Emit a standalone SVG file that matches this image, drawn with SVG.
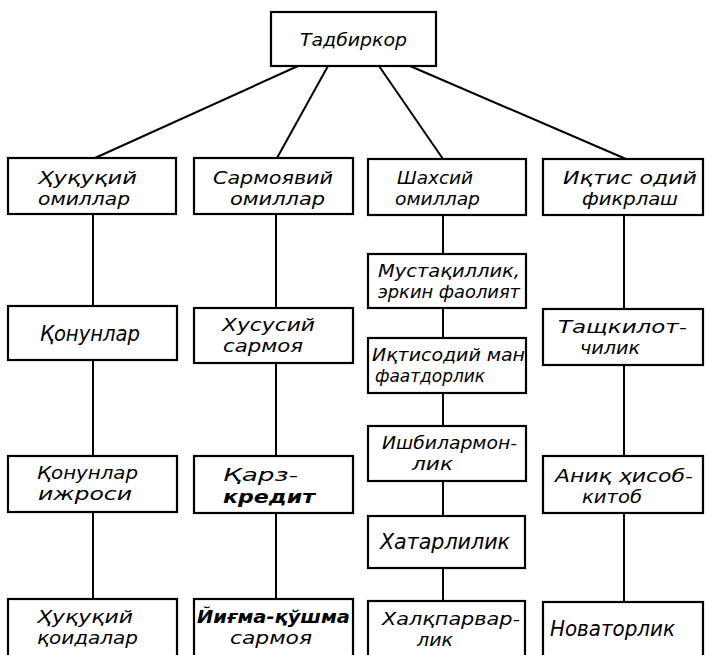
<svg xmlns="http://www.w3.org/2000/svg" width="707" height="655" viewBox="0 0 707 655">
<style>
.box{fill:#fff;stroke:#000;stroke-width:2.2}
.ln{stroke:#000;stroke-width:2;fill:none}
text{font-family:'DejaVu Sans Condensed','DejaVu Sans',sans-serif;font-style:italic;font-size:18px;fill:#000}
.one{font-size:21px}
</style>
<rect width="707" height="655" fill="#fff"/>
<g id="connectors">
<line class="ln" x1="298" y1="66" x2="95" y2="158"/>
<line class="ln" x1="328" y1="66" x2="277" y2="158"/>
<line class="ln" x1="379" y1="66" x2="443" y2="159"/>
<line class="ln" x1="410" y1="66" x2="626" y2="159"/>
<line class="ln" x1="93" y1="214" x2="93" y2="306"/>
<line class="ln" x1="93" y1="360" x2="93" y2="456"/>
<line class="ln" x1="93" y1="512" x2="93" y2="599"/>
<line class="ln" x1="276" y1="214" x2="276" y2="308"/>
<line class="ln" x1="276" y1="363" x2="276" y2="456"/>
<line class="ln" x1="276" y1="513" x2="276" y2="599"/>
<line class="ln" x1="443" y1="215" x2="443" y2="254"/>
<line class="ln" x1="443" y1="308" x2="443" y2="338"/>
<line class="ln" x1="443" y1="393" x2="443" y2="426"/>
<line class="ln" x1="443" y1="481" x2="443" y2="516"/>
<line class="ln" x1="443" y1="568" x2="443" y2="601"/>
<line class="ln" x1="624" y1="215" x2="624" y2="309"/>
<line class="ln" x1="624" y1="365" x2="624" y2="456"/>
<line class="ln" x1="624" y1="513" x2="624" y2="602"/>
</g>
<g id="n-tadbirkor">
<rect class="box" x="271" y="12" width="165" height="54"/>
<text x="300" y="46" textLength="107" lengthAdjust="spacingAndGlyphs" font-size="23">Тадбиркор</text>
</g>
<g id="n-huquqiy-omillar">
<rect class="box" x="8" y="158" width="168" height="56"/>
<text x="38" y="184" textLength="99" lengthAdjust="spacingAndGlyphs">Ҳуқуқий</text>
<text x="38" y="205" textLength="92" lengthAdjust="spacingAndGlyphs">омиллар</text>
</g>
<g id="n-sarmoyaviy-omillar">
<rect class="box" x="194" y="158" width="159" height="56"/>
<text x="213" y="184" textLength="120" lengthAdjust="spacingAndGlyphs">Сармоявий</text>
<text x="230" y="205" textLength="95" lengthAdjust="spacingAndGlyphs">омиллар</text>
</g>
<g id="n-shahsiy-omillar">
<rect class="box" x="368" y="159" width="158" height="56"/>
<text x="397" y="184" textLength="76" lengthAdjust="spacingAndGlyphs">Шахсий</text>
<text x="395" y="205" textLength="85" lengthAdjust="spacingAndGlyphs">омиллар</text>
</g>
<g id="n-iqtisodiy-fikrlash">
<rect class="box" x="543" y="159" width="160" height="56"/>
<text x="563" y="184" textLength="134" lengthAdjust="spacingAndGlyphs">Иқтис одий</text>
<text x="582" y="205" textLength="96" lengthAdjust="spacingAndGlyphs">фикрлаш</text>
</g>
<g id="n-qonunlar">
<rect class="box" x="8" y="306" width="169" height="54"/>
<text class="one" x="40" y="341" textLength="100" lengthAdjust="spacingAndGlyphs">Қонунлар</text>
</g>
<g id="n-xususiy-sarmoya">
<rect class="box" x="194" y="308" width="159" height="55"/>
<text x="222" y="331" textLength="93" lengthAdjust="spacingAndGlyphs">Хусусий</text>
<text x="223" y="352" textLength="80" lengthAdjust="spacingAndGlyphs">сармоя</text>
</g>
<g id="n-mustaqillik">
<rect class="box" x="368" y="254" width="158" height="54"/>
<text x="378" y="277" textLength="142" lengthAdjust="spacingAndGlyphs">Мустақиллик,</text>
<text x="378" y="298" textLength="142" lengthAdjust="spacingAndGlyphs">эркин фаолият</text>
</g>
<g id="n-iqtisodiy-manfaatdorlik">
<rect class="box" x="368" y="338" width="158" height="55"/>
<text x="372" y="361" textLength="153" lengthAdjust="spacingAndGlyphs">Иқтисодий ман</text>
<text x="375" y="382" textLength="110" lengthAdjust="spacingAndGlyphs">фаатдорлик</text>
</g>
<g id="n-tashkilotchilik">
<rect class="box" x="543" y="309" width="160" height="56"/>
<text x="558" y="333" textLength="129" lengthAdjust="spacingAndGlyphs">Тащкилот-</text>
<text x="580" y="354" textLength="60" lengthAdjust="spacingAndGlyphs">чилик</text>
</g>
<g id="n-ishbilarmonlik">
<rect class="box" x="368" y="426" width="158" height="55"/>
<text x="382" y="449" textLength="135" lengthAdjust="spacingAndGlyphs">Ишбилармон-</text>
<text x="412" y="470" textLength="41" lengthAdjust="spacingAndGlyphs">лик</text>
</g>
<g id="n-qonunlar-ijrosi">
<rect class="box" x="8" y="456" width="169" height="56"/>
<text x="37" y="479" textLength="101" lengthAdjust="spacingAndGlyphs">Қонунлар</text>
<text x="38" y="500" textLength="94" lengthAdjust="spacingAndGlyphs">ижроси</text>
</g>
<g id="n-qarz-kredit">
<rect class="box" x="194" y="456" width="159" height="57"/>
<text x="223" y="481" textLength="75" lengthAdjust="spacingAndGlyphs">Қарз-</text>
<text x="223" y="503" textLength="92" lengthAdjust="spacingAndGlyphs" font-weight="bold">кредит</text>
</g>
<g id="n-aniq-hisob-kitob">
<rect class="box" x="543" y="456" width="160" height="57"/>
<text x="555" y="482" textLength="138" lengthAdjust="spacingAndGlyphs">Аниқ ҳисоб-</text>
<text x="582" y="503" textLength="60" lengthAdjust="spacingAndGlyphs">китоб</text>
</g>
<g id="n-xatarlilik">
<rect class="box" x="368" y="516" width="157" height="52"/>
<text class="one" x="380" y="549" textLength="130" lengthAdjust="spacingAndGlyphs">Хатарлилик</text>
</g>
<g id="n-huquqiy-qoidalar">
<rect class="box" x="8" y="599" width="169" height="60"/>
<text x="37" y="623" textLength="96" lengthAdjust="spacingAndGlyphs">Ҳуқуқий</text>
<text x="37" y="644" textLength="101" lengthAdjust="spacingAndGlyphs">қоидалар</text>
</g>
<g id="n-yigma-qushma-sarmoya">
<rect class="box" x="194" y="599" width="159" height="60"/>
<text x="197" y="623" textLength="153" lengthAdjust="spacingAndGlyphs" font-weight="bold">Йиғма-қўшма</text>
<text x="230" y="644" textLength="82" lengthAdjust="spacingAndGlyphs">сармоя</text>
</g>
<g id="n-xalqparvarlik">
<rect class="box" x="368" y="601" width="157" height="58"/>
<text x="382" y="625" textLength="138" lengthAdjust="spacingAndGlyphs">Халқпарвар-</text>
<text x="417" y="646" textLength="36" lengthAdjust="spacingAndGlyphs">лик</text>
</g>
<g id="n-novatorlik">
<rect class="box" x="543" y="602" width="160" height="57"/>
<text class="one" x="550" y="636" textLength="125" lengthAdjust="spacingAndGlyphs">Новаторлик</text>
</g>
</svg>
